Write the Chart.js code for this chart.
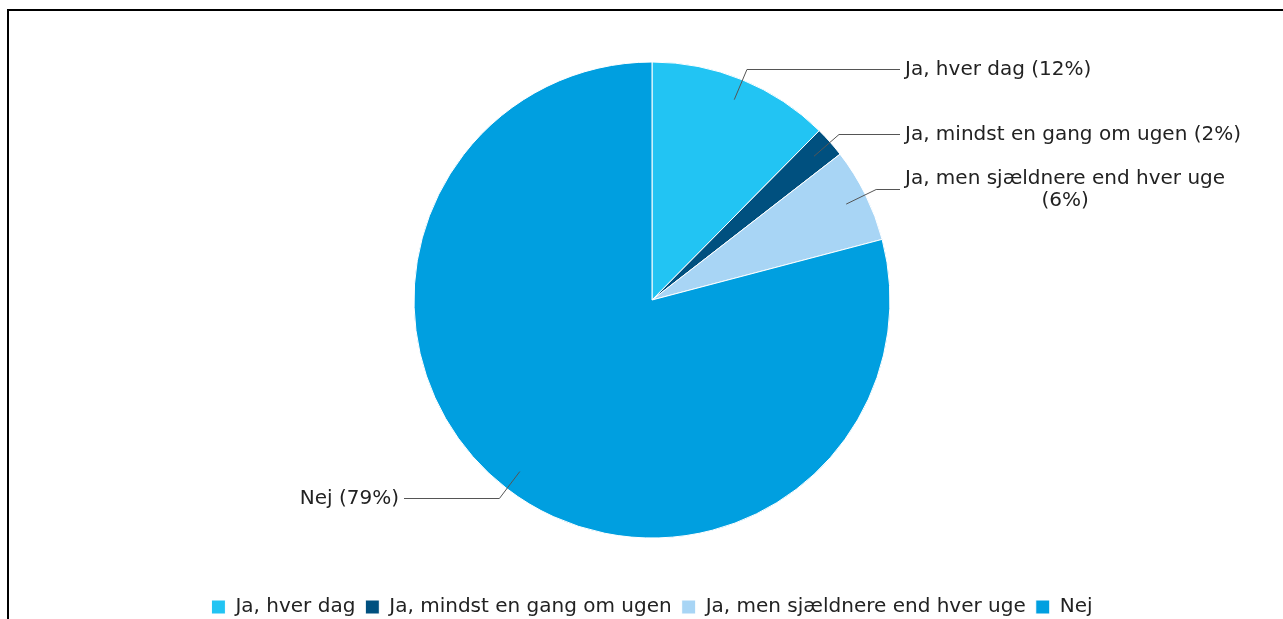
<!DOCTYPE html>
<html>
<head>
<meta charset="utf-8">
<script src="https://cdn.jsdelivr.net/npm/chart.js@4.4.1/dist/chart.umd.min.js"></script>
<style>
  html, body { margin: 0; padding: 0; background: #fff; overflow: hidden; width: 1283px; height: 619px; }
  #frame { position: absolute; left: 7px; top: 9px; width: 2000px; height: 2000px; border-top: 2px solid #000; border-left: 2px solid #000; }
  #c { position: absolute; left: 0; top: 0; }
</style>
</head>
<body>
<div id="frame"></div>
<canvas id="c" width="1283" height="627"></canvas>
<script>
const categories = ['Ja, hver dag', 'Ja, mindst en gang om ugen', 'Ja, men sjældnere end hver uge', 'Nej'];
const values = [12.4, 2.1, 6.4, 79.1];
const sliceColors = ['#22c4f3', '#00507f', '#a8d5f5', '#009fe0'];

const FONT = '"DejaVu Sans", Verdana, sans-serif';

const leaderPlugin = {
  id: 'leaders',
  afterDatasetsDraw(chart) {
    const ctx = chart.ctx;
    const meta = chart.getDatasetMeta(0);
    const total = values.reduce((a, b) => a + b, 0);
    ctx.save();
    ctx.font = '20px ' + FONT;
    ctx.fillStyle = '#222';
    meta.data.forEach((arc, i) => {
      const p = arc.getProps(['x', 'y', 'startAngle', 'endAngle', 'outerRadius'], true);
      const R = p.outerRadius;
      const a = (p.startAngle + p.endAngle) / 2;
      const c = Math.cos(a), s = Math.sin(a);
      const x1 = p.x + 0.91 * R * c, y1 = p.y + 0.91 * R * s;
      const x2 = p.x + (R + 12) * c, y2 = Math.round(p.y + (R + 12) * s) + 0.5;
      const right = c >= 0;
      const x3 = right ? p.x + R + 10 : p.x - R - 10;
      ctx.strokeStyle = '#555';
      ctx.lineWidth = 1;
      ctx.beginPath();
      ctx.moveTo(x1, y1);
      ctx.lineTo(x2, y2);
      ctx.lineTo(x3, y2);
      ctx.stroke();

      const pct = Math.round(values[i] / total * 100);
      const text = categories[i] + ' (' + pct + '%)';
      const tx = right ? p.x + R + 15 : p.x - R - 15;
      const maxW = right ? chart.width - tx - 20 : tx - 20;
      const words = text.split(' ');
      const lines = [];
      let cur = '';
      words.forEach(w => {
        const t = cur ? cur + ' ' + w : w;
        if (cur && ctx.measureText(t).width > maxW) { lines.push(cur); cur = w; }
        else cur = t;
      });
      if (cur) lines.push(cur);
      const blockW = Math.max(...lines.map(l => ctx.measureText(l).width));
      const lh = 22;
      const y0 = y2 - (lines.length - 1) * lh / 2;
      ctx.textAlign = 'center';
      ctx.textBaseline = 'middle';
      const cx = right ? tx + blockW / 2 : tx - blockW / 2;
      lines.forEach((ln, k) => ctx.fillText(ln, cx, y0 + k * lh));
    });
    ctx.restore();
  }
};

new Chart(document.getElementById('c'), {
  type: 'pie',
  data: {
    labels: categories,
    datasets: [{
      data: values,
      backgroundColor: sliceColors,
      borderColor: '#ffffff',
      borderWidth: 1,
      radius: 238
    }]
  },
  options: {
    responsive: false,
    animation: false,
    layout: { padding: { left: 21, right: 0, top: 13, bottom: 0 } },
    plugins: {
      tooltip: { enabled: false },
      legend: {
        position: 'bottom',
        labels: {
          boxWidth: 14,
          boxHeight: 14,
          padding: 10,
          color: '#222',
          font: { family: FONT, size: 20 }
        }
      }
    }
  },
  plugins: [leaderPlugin]
});
</script>
</body>
</html>
